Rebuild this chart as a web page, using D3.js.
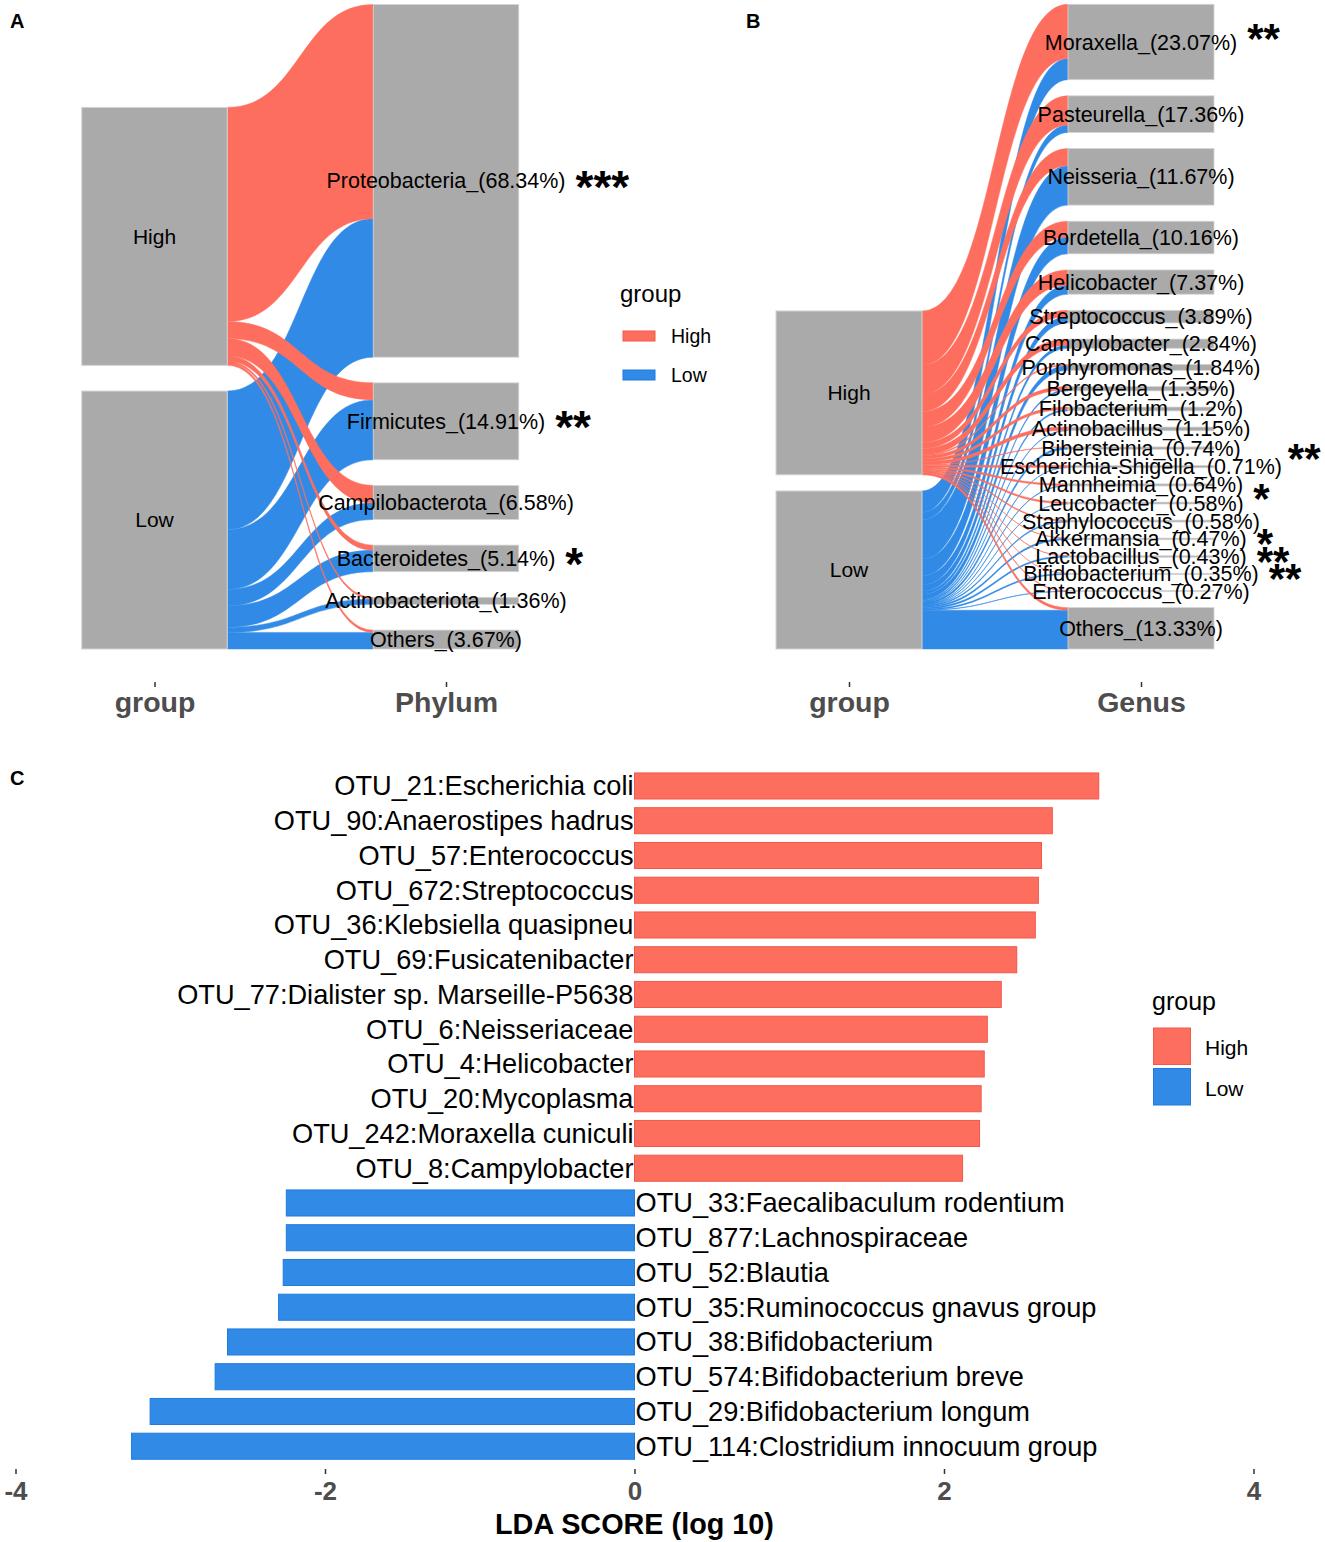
<!DOCTYPE html>
<html>
<head>
<meta charset="utf-8">
<script src="https://cdn.jsdelivr.net/npm/d3@7"></script>
<style>
  body { margin: 0; background: #fff; }
  svg text { font-family: "Liberation Sans", Arial, sans-serif; }
</style>
</head>
<body>
<svg id="fig" width="1325" height="1542"></svg>
<script>
// ---- data: panel A (group -> phylum), values in % of all reads
var groups = ["High", "Low"];
var phyla = ["Proteobacteria_(68.34%)", "Firmicutes_(14.91%)", "Campilobacterota_(6.58%)",
             "Bacteroidetes_(5.14%)", "Actinobacteriota_(1.36%)", "Others_(3.67%)"];
var phylumHigh = [41.5, 3.3, 3.4, 1.0, 0.35, 0.45];
var phylumLow  = [26.84, 11.61, 3.18, 4.14, 1.01, 3.22];
var phylumSig  = ["***", "**", "", "*", "", ""];

// ---- data: panel B (group -> genus)
var genera = ["Moraxella_(23.07%)", "Pasteurella_(17.36%)", "Neisseria_(11.67%)", "Bordetella_(10.16%)",
              "Helicobacter_(7.37%)", "Streptococcus_(3.89%)", "Campylobacter_(2.84%)", "Porphyromonas_(1.84%)",
              "Bergeyella_(1.35%)", "Filobacterium_(1.2%)", "Actinobacillus_(1.15%)", "Bibersteinia_(0.74%)",
              "Escherichia-Shigella_(0.71%)", "Mannheimia_(0.64%)", "Leucobacter_(0.58%)", "Staphylococcus_(0.58%)",
              "Akkermansia_(0.47%)", "Lactobacillus_(0.43%)", "Bifidobacterium_(0.35%)", "Enterococcus_(0.27%)",
              "Others_(13.33%)"];
var genusHigh = [16.7, 9.0, 5.3, 4.9, 4.7, 1.9, 1.9, 0.3, 1.0, 0.8, 1.0, 0.1, 0.6, 0.5, 0.5, 0.3, 0.03, 0.03, 0.02, 0.2, 0.8];
var genusLow  = [6.57, 2.3, 12.15, 5.16, 2.78, 1.99, 0.94, 1.54, 0.35, 0.4, 0.15, 0.64, 0.11, 0.14, 0.08, 0.28, 0.44, 0.40, 0.33, 0.07, 11.97];
var genusSig  = ["**", "", "", "", "", "", "", "", "", "", "", "**", "", "*", "", "", "*", "**", "**", "", ""];

// ---- data: panel C (LEfSe)
var otus = ["OTU_21:Escherichia coli", "OTU_90:Anaerostipes hadrus", "OTU_57:Enterococcus",
            "OTU_672:Streptococcus", "OTU_36:Klebsiella quasipneu", "OTU_69:Fusicatenibacter",
            "OTU_77:Dialister sp. Marseille-P5638", "OTU_6:Neisseriaceae", "OTU_4:Helicobacter",
            "OTU_20:Mycoplasma", "OTU_242:Moraxella cuniculi", "OTU_8:Campylobacter",
            "OTU_33:Faecalibaculum rodentium", "OTU_877:Lachnospiraceae", "OTU_52:Blautia",
            "OTU_35:Ruminococcus gnavus group", "OTU_38:Bifidobacterium", "OTU_574:Bifidobacterium breve",
            "OTU_29:Bifidobacterium longum", "OTU_114:Clostridium innocuum group"];
var ldaScore = [3.00, 2.70, 2.63, 2.61, 2.59, 2.47, 2.37, 2.28, 2.26, 2.24, 2.23, 2.12,
                -2.25, -2.25, -2.27, -2.30, -2.63, -2.71, -3.13, -3.25];
var otuGroup = ["High", "High", "High", "High", "High", "High", "High", "High", "High", "High", "High", "High",
                "Low", "Low", "Low", "Low", "Low", "Low", "Low", "Low"];
var ldaTicks = [-4, -2, 0, 2, 4];

var RED = "#fd6e5e", BLUE = "#318be6", GREY = "#aaaaaa";
var color = d3.scaleOrdinal().domain(groups).range([RED, BLUE]);
var strokeCol = d3.scaleOrdinal().domain(groups).range(["#f2584a", "#1f7bdc"]);

var svg = d3.select("#fig");

function panelLetter(t, x, y) {
  svg.append("text").attr("x", x).attr("y", y).attr("font-size", 20).attr("font-weight", "bold").text(t);
}

function ribbon(x0, x1, s0, s1, t0, t1) {
  var xm = (x0 + x1) / 2, p = d3.path();
  p.moveTo(x0, s0);
  p.bezierCurveTo(xm, s0, xm, t0, x1, t0);
  p.lineTo(x1, t1);
  p.bezierCurveTo(xm, t1, xm, s1, x0, s1);
  p.closePath();
  return p.toString();
}

function alluvial(cfg) {
  var g = svg.append("g");
  var n = cfg.nodes.length;
  var totH = d3.sum(cfg.high), totL = d3.sum(cfg.low), total = totH + totL;
  var k = (cfg.bottom - cfg.top - (n - 1) * cfg.gap) / total;
  var h = d3.scaleLinear().domain([0, total]).range([0, total * k]);
  var x = d3.scalePoint().domain(cfg.axes).range(cfg.xr);
  var w = cfg.w;
  var xl = x(cfg.axes[0]), xr = x(cfg.axes[1]);

  // right-hand strata
  var right = [], y = cfg.top;
  cfg.nodes.forEach(function (name, i) {
    var a = h(cfg.high[i]), b = h(cfg.low[i]);
    right.push({ name: name, y0: y, y1: y + a + b, seg: [[y, y + a], [y + a, y + a + b]], sig: cfg.sig[i] });
    y += a + b + cfg.gap;
  });
  // left-hand strata (bottom aligned)
  var lowTop = cfg.bottom - h(totL);
  var highTop = lowTop - cfg.gap - h(totH);
  var left = [{ name: "High", y0: highTop, y1: highTop + h(totH) }, { name: "Low", y0: lowTop, y1: cfg.bottom }];

  // flows
  var flows = [];
  [cfg.high, cfg.low].forEach(function (vals, gi) {
    var cy = left[gi].y0;
    vals.forEach(function (v, i) {
      var s0 = cy, s1 = cy + h(v);
      cy = s1;
      flows.push({ grp: groups[gi], s0: s0, s1: s1, t0: right[i].seg[gi][0], t1: right[i].seg[gi][1] });
    });
  });
  flows.sort(function (a, b) { return d3.descending(a.grp, b.grp); });

  g.selectAll("path.flow").data(flows).join("path")
    .attr("class", "flow")
    .attr("d", function (f) { return ribbon(xl + w / 2, xr - w / 2, f.s0, f.s1, f.t0, f.t1); })
    .attr("fill", function (f) { return color(f.grp); })
    .attr("stroke", function (f) { return color(f.grp); })
    .attr("stroke-width", 0.5);

  // strata
  g.selectAll("rect.lnode").data(left).join("rect")
    .attr("x", xl - w / 2).attr("width", w)
    .attr("y", function (d) { return d.y0; }).attr("height", function (d) { return d.y1 - d.y0; })
    .attr("fill", GREY).attr("stroke", "#d4d4d4").attr("stroke-width", 1);
  g.selectAll("rect.rnode").data(right).join("rect")
    .attr("x", xr - w / 2).attr("width", w)
    .attr("y", function (d) { return d.y0; }).attr("height", function (d) { return Math.max(0.8, d.y1 - d.y0); })
    .attr("fill", GREY).attr("stroke", "#d4d4d4").attr("stroke-width", 0.8);

  // labels
  g.selectAll("text.lab").data(left).join("text")
    .attr("x", xl).attr("y", function (d) { return (d.y0 + d.y1) / 2; }).attr("dy", "0.35em")
    .attr("text-anchor", "middle").attr("font-size", 21).text(function (d) { return d.name; });

  var labs = g.selectAll("text.rlab").data(right).join("text")
    .attr("x", xr).attr("y", function (d) { return (d.y0 + d.y1) / 2; }).attr("dy", "0.35em")
    .attr("text-anchor", "middle").attr("font-size", 21.5).text(function (d) { return d.name; });

  labs.each(function (d) {
    if (!d.sig) return;
    var len = this.getComputedTextLength();
    var nud = cfg.nudge[d.name] || [0, 0];
    g.append("text")
      .attr("x", xr + len / 2 + 10 + nud[0])
      .attr("y", (d.y0 + d.y1) / 2 - 5 + nud[1] + 0.58 * cfg.star)
      .attr("font-size", cfg.star).attr("font-weight", "bold").text(d.sig);
  });

  // axis
  var ax = g.append("g").attr("transform", "translate(0," + cfg.axisY + ")")
    .call(d3.axisBottom(x).tickSize(5).tickSizeOuter(0).tickPadding(5));
  ax.select(".domain").remove();
  ax.selectAll(".tick line").attr("stroke", "#333").attr("stroke-width", 1.5);
  ax.selectAll(".tick text").attr("font-size", 28.5).attr("font-weight", "bold")
    .attr("fill", "#4d4d4d").attr("font-family", "Liberation Sans, Arial, sans-serif");
}

// ---- panel A
panelLetter("A", 10, 28);
alluvial({
  nodes: phyla, high: phylumHigh, low: phylumLow, sig: phylumSig,
  axes: ["group", "Phylum"], xr: [154.5, 446], w: 145.5,
  top: 4.6, bottom: 649, gap: 25.7, axisY: 682, star: 46, nudge: {}
});

// legend A
var legA = svg.append("g").attr("transform", "translate(620,0)");
legA.append("text").attr("x", 0).attr("y", 302).attr("font-size", 24).text("group");
legA.selectAll("rect").data(groups).join("rect")
  .attr("x", 3).attr("y", function (d, i) { return 331 + i * 39; })
  .attr("width", 32).attr("height", 10)
  .attr("fill", function (d) { return color(d); }).attr("stroke", function (d) { return strokeCol(d); });
legA.selectAll("text.k").data(groups).join("text").attr("class", "k")
  .attr("x", 51).attr("y", function (d, i) { return 343 + i * 39; })
  .attr("font-size", 19.5).text(function (d) { return d; });

// ---- panel B
panelLetter("B", 746, 28);
alluvial({
  nodes: genera, high: genusHigh, low: genusLow, sig: genusSig,
  axes: ["group", "Genus"], xr: [849, 1141], w: 146,
  top: 4.3, bottom: 649, gap: 16.14, axisY: 682, star: 42,
  nudge: { "Moraxella_(23.07%)": [0, -8], "Bibersteinia_(0.74%)": [37, 6], "Mannheimia_(0.64%)": [0, 9] }
});

// ---- panel C
panelLetter("C", 10, 785);
var xC = d3.scaleLinear().domain([-4, 4]).range([15.5, 1253.5]);
var yC = d3.scaleBand().domain(otus).range([768.6, 1463.6]).paddingInner(0.25).paddingOuter(0.125);
var rows = otus.map(function (o, i) { return { name: o, v: ldaScore[i], grp: otuGroup[i] }; });
var gC = svg.append("g");
gC.selectAll("rect").data(rows).join("rect")
  .attr("x", function (d) { return xC(Math.min(0, d.v)); })
  .attr("width", function (d) { return Math.abs(xC(d.v) - xC(0)); })
  .attr("y", function (d) { return yC(d.name); })
  .attr("height", yC.bandwidth())
  .attr("fill", function (d) { return color(d.grp); })
  .attr("stroke", function (d) { return strokeCol(d.grp); }).attr("stroke-width", 1);
gC.selectAll("text").data(rows).join("text")
  .attr("x", function (d) { return d.v > 0 ? xC(0) - 1 : xC(0) + 1; })
  .attr("y", function (d) { return yC(d.name) + yC.bandwidth() / 2; }).attr("dy", "0.35em")
  .attr("text-anchor", function (d) { return d.v > 0 ? "end" : "start"; })
  .attr("font-size", 27.2).text(function (d) { return d.name; });

var axC = svg.append("g").attr("transform", "translate(0,1469)")
  .call(d3.axisBottom(xC).tickValues(ldaTicks).tickFormat(function (d) { return String(d); })
    .tickSize(5).tickSizeOuter(0).tickPadding(7.5));
axC.select(".domain").remove();
axC.selectAll(".tick line").attr("stroke", "#333").attr("stroke-width", 1.5);
axC.selectAll(".tick text").attr("font-size", 26).attr("font-weight", "bold")
  .attr("fill", "#4d4d4d").attr("font-family", "Liberation Sans, Arial, sans-serif");
svg.append("text").attr("x", xC(0)).attr("y", 1534).attr("text-anchor", "middle")
  .attr("font-size", 28.8).attr("font-weight", "bold").text("LDA SCORE (log 10)");

// legend C
var legC = svg.append("g").attr("transform", "translate(1152,0)");
legC.append("text").attr("x", 0).attr("y", 1010).attr("font-size", 25).text("group");
legC.selectAll("rect").data(groups).join("rect")
  .attr("x", 1.5).attr("y", function (d, i) { return 1028 + i * 40.5; })
  .attr("width", 37).attr("height", 36.5)
  .attr("fill", function (d) { return color(d); }).attr("stroke", function (d) { return strokeCol(d); });
legC.selectAll("text.k").data(groups).join("text").attr("class", "k")
  .attr("x", 53).attr("y", function (d, i) { return 1055 + i * 40.5; })
  .attr("font-size", 21).text(function (d) { return d; });
</script>
</body>
</html>
